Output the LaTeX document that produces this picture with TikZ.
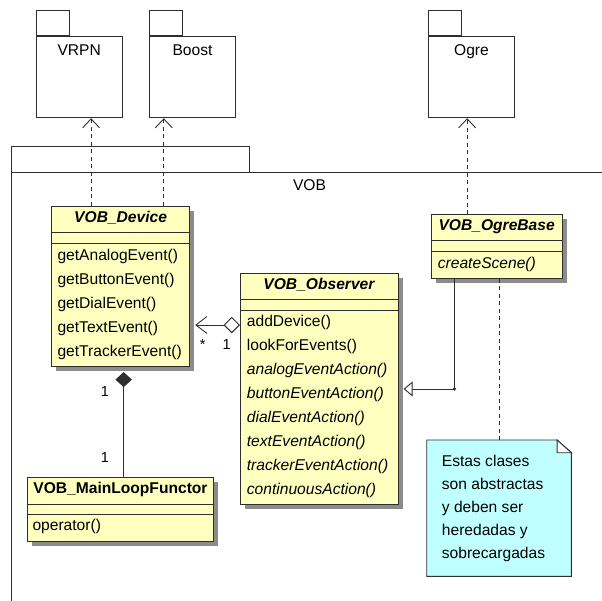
\documentclass[tikz,border=0pt]{standalone}
\usepackage{fontspec}
\setmainfont{Liberation Sans}
\usetikzlibrary{arrows.meta,shadows}
\definecolor{classyellow}{HTML}{FFFFC0}
\definecolor{notecyan}{HTML}{C0FFFF}
\definecolor{umlline}{HTML}{2E2E2E}

\begin{document}
\begin{tikzpicture}[x=1pt,y=-1pt,
  every node/.style={font=\fontsize{15.6}{18}\selectfont},
  pkg/.style={draw=umlline,line width=0.9pt,anchor=north west,inner sep=0,minimum width=85.5pt,minimum height=81.6pt},
  cls/.style={draw=umlline,fill=classyellow,line width=0.9pt,anchor=north west,inner sep=0,
    drop shadow={shadow xshift=4.5pt,shadow yshift=-4.5pt,fill=black,opacity=0.45}},
  notebox/.style={anchor=north west,inner sep=0},
  ctitle/.style={inner sep=0,font=\fontsize{15.6}{18}\selectfont\bfseries},
  member/.style={anchor=west,inner sep=0,text height=11.5pt,text depth=3.3pt},
  mult/.style={inner sep=0,font=\fontsize{14.5}{16}\selectfont},
  edge/.style={draw=umlline,line width=0.9pt},
  dep/.style={edge,dash pattern=on 4pt off 3.5pt,-{Straight Barb[length=9pt,width=17pt]}}]
\useasboundingbox (0,0) rectangle (602,600);
\clip (0,0) rectangle (602,600);

\node[pkg,label={[anchor=north,inner sep=0,yshift=-8.5pt]north:VRPN}] (vrpn) at (36,35.7) {};
\node[pkg,label={[anchor=north,inner sep=0,yshift=-8.5pt]north:Boost}] (boost) at (149.3,35.7) {};
\node[pkg,label={[anchor=north,inner sep=0,yshift=-8.5pt]north:Ogre}] (ogre) at (428.3,35.7) {};
\draw[edge] (vrpn.north west) rectangle ++(33.3,-25);
\draw[edge] (boost.north west) rectangle ++(33.3,-25);
\draw[edge] (ogre.north west) rectangle ++(33.3,-25);

\node[draw=umlline,line width=0.9pt,anchor=north west,minimum width=700pt,minimum height=500pt] (vob) at (11,172.3) {};
\draw[edge] (vob.north west) rectangle ++(238.3,-25.6);
\node (voblbl) at (309.5,185) {VOB};

\node[cls,minimum width=138.3pt,minimum height=160pt] (dev) at (51,205.7) {};
\node[ctitle] (devname) at ([yshift=-12.2pt]dev.north) {\textit{VOB\_Device}};
\draw[edge] ([yshift=-27pt]dev.north west) -- ([yshift=-27pt]dev.north east);
\draw[edge] ([yshift=-37.6pt]dev.north west) -- ([yshift=-37.6pt]dev.north east);
\node[member] (d1) at ([xshift=6.3pt,yshift=-51pt]dev.north west) {getAnalogEvent()};
\node[member] (d2) at ([yshift=-23.8pt]d1.west) {getButtonEvent()};
\node[member] (d3) at ([yshift=-23.8pt]d2.west) {getDialEvent()};
\node[member] (d4) at ([yshift=-23.8pt]d3.west) {getTextEvent()};
\node[member] (d5) at ([yshift=-23.8pt]d4.west) {getTrackerEvent()};

\node[cls,minimum width=157.7pt,minimum height=231.6pt] (obs) at (240,272.7) {};
\node[ctitle] (obsname) at ([yshift=-12.2pt]obs.north) {\textit{VOB\_Observer}};
\draw[edge] ([yshift=-26.6pt]obs.north west) -- ([yshift=-26.6pt]obs.north east);
\draw[edge] ([yshift=-37.3pt]obs.north west) -- ([yshift=-37.3pt]obs.north east);
\node[member] (o1) at ([xshift=6.7pt,yshift=-50pt]obs.north west) {addDevice()};
\node[member] (o2) at ([yshift=-23.9pt]o1.west) {lookForEvents()};
\node[member] (o3) at ([yshift=-23.9pt]o2.west) {\textit{analogEventAction()}};
\node[member] (o4) at ([yshift=-23.9pt]o3.west) {\textit{buttonEventAction()}};
\node[member] (o5) at ([yshift=-23.9pt]o4.west) {\textit{dialEventAction()}};
\node[member] (o6) at ([yshift=-23.9pt]o5.west) {\textit{textEventAction()}};
\node[member] (o7) at ([yshift=-23.9pt]o6.west) {\textit{trackerEventAction()}};
\node[member] (o8) at ([yshift=-23.9pt]o7.west) {\textit{continuousAction()}};

\node[cls,minimum width=131pt,minimum height=64.3pt] (ogb) at (430.7,214) {};
\node[ctitle] (ogbname) at ([yshift=-12.2pt]ogb.north) {\textit{VOB\_OgreBase}};
\draw[edge] ([yshift=-26.7pt]ogb.north west) -- ([yshift=-26.7pt]ogb.north east);
\draw[edge] ([yshift=-37.7pt]ogb.north west) -- ([yshift=-37.7pt]ogb.north east);
\node[member] (g1) at ([xshift=7pt,yshift=-50pt]ogb.north west) {\textit{createScene()}};

\node[cls,minimum width=186.6pt,minimum height=63.7pt] (mlf) at (26.7,477.3) {};
\node[ctitle] (mlfname) at ([yshift=-12.2pt]mlf.north) {VOB\_MainLoopFunctor};
\draw[edge] ([yshift=-26.7pt]mlf.north west) -- ([yshift=-26.7pt]mlf.north east);
\draw[edge] ([yshift=-37.4pt]mlf.north west) -- ([yshift=-37.4pt]mlf.north east);
\node[member] (f1) at ([xshift=5.6pt,yshift=-49.4pt]mlf.north west) {operator()};

\node[notebox,minimum width=144.3pt,minimum height=136pt] (note) at (426.7,440) {};
\filldraw[edge,fill=notecyan] (note.south west) -- (note.north west) -- ([xshift=-14.3pt]note.north east)
  -- ([yshift=-12.7pt]note.north east) -- (note.south east) -- cycle;
\filldraw[edge,fill=white] ([xshift=-14.3pt]note.north east) -- ([xshift=-14.3pt,yshift=-12.7pt]note.north east)
  -- ([yshift=-12.7pt]note.north east) -- cycle;
\node[member] (n1) at ([xshift=15pt,yshift=-22.7pt]note.north west) {Estas clases};
\node[member] (n2) at ([yshift=-22.8pt]n1.west) {son abstractas};
\node[member] (n3) at ([yshift=-22.8pt]n2.west) {y deben ser};
\node[member] (n4) at ([yshift=-22.8pt]n3.west) {heredadas y};
\node[member] (n5) at ([yshift=-22.8pt]n4.west) {sobrecargadas};

\coordinate (vx) at ([xshift=-29.5pt]dev.north);
\coordinate (bx) at ([xshift=43.2pt]dev.north);
\coordinate (ox) at ([xshift=-29.5pt]ogb.north);
\draw[dep] (vx) -- (vx |- vrpn.south);
\draw[dep] (bx) -- (bx |- boost.south);
\draw[dep] (ox) -- (ox |- ogre.south);

\coordinate (agg) at ([yshift=-52.3pt]obs.north west);
\draw[edge,shorten >=5pt,{Diamond[length=16.5pt,width=16.5pt,fill=white]}-{Straight Barb[length=11pt,width=17pt]}] (agg) -- (agg -| dev.east);
\node[mult] (m1) at (202.7,344.5) {*};
\node[mult] (m2) at (226.7,345) {1};

\coordinate (gtop) at ([xshift=-42.2pt]ogb.south);
\coordinate (gj) at (gtop |- obs.east);
\draw[edge,shorten >=5pt,-{Triangle[length=9pt,width=15pt,fill=white]}] (gtop) -- (gj) -- (obs.east);
\fill[umlline] (gj) circle (1.8pt);

\coordinate (cbot) at ([xshift=3.2pt]mlf.north);
\draw[edge,shorten >=5.5pt,-{Diamond[length=15pt,width=16.5pt]}] (cbot) -- (cbot |- dev.south);
\node[mult] (m3) at (105,391.7) {1};
\node[mult] (m4) at (105,457.3) {1};

\draw[edge,dash pattern=on 4pt off 3.5pt] (note.north) -- (note.north |- ogb.south);
\end{tikzpicture}
\end{document}
